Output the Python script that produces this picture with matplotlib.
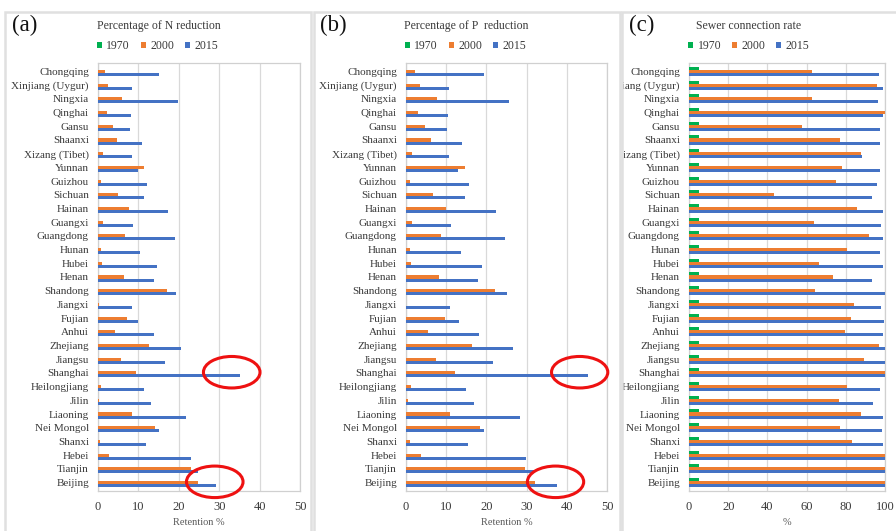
import matplotlib.pyplot as plt
from matplotlib.patches import Rectangle, Ellipse
import numpy as np

plt.rcParams['font.family'] = ['Liberation Serif', 'DejaVu Serif']

# provinces from top to bottom
provinces = ['Chongqing', 'Xinjiang (Uygur)', 'Ningxia', 'Qinghai', 'Gansu', 'Shaanxi',
             'Xizang (Tibet)', 'Yunnan', 'Guizhou', 'Sichuan', 'Hainan', 'Guangxi',
             'Guangdong', 'Hunan', 'Hubei', 'Henan', 'Shandong', 'Jiangxi', 'Fujian',
             'Anhui', 'Zhejiang', 'Jiangsu', 'Shanghai', 'Heilongjiang', 'Jilin',
             'Liaoning', 'Nei Mongol', 'Shanxi', 'Hebei', 'Tianjin', 'Beijing']

# percentage of N reduction
n_1970 = [0] * 31
n_2000 = [1.7, 2.5, 5.9, 2.3, 3.7, 4.7, 1.2, 11.3, 0.7, 4.9, 7.6, 1.2, 6.6, 0.7, 0.9,
          6.4, 17.2, 0.2, 7.3, 4.1, 12.6, 5.7, 9.4, 0.8, 0.2, 8.4, 14.2, 0.6, 2.7, 22.9, 24.8]
n_2015 = [15.2, 8.3, 19.8, 8.2, 7.9, 10.8, 8.3, 9.9, 12.2, 11.3, 17.4, 8.7, 19.1, 10.4, 14.5,
          13.8, 19.4, 8.3, 10.0, 13.9, 20.5, 16.7, 35.1, 11.5, 13.0, 21.9, 15.2, 11.8, 23.0, 24.8, 29.3]

# percentage of P reduction
p_1970 = [0] * 31
p_2000 = [2.2, 3.4, 7.7, 3.0, 4.8, 6.1, 1.6, 14.7, 1.0, 6.6, 9.9, 1.4, 8.7, 1.0, 1.3,
          8.3, 22.2, 0.1, 9.6, 5.4, 16.4, 7.5, 12.2, 1.2, 0.4, 11.0, 18.3, 0.9, 3.7, 29.5, 32.2]
p_2015 = [19.5, 10.7, 25.6, 10.5, 10.2, 14.0, 10.7, 12.9, 15.7, 14.7, 22.4, 11.3, 24.7, 13.6, 18.8,
          17.9, 25.2, 10.9, 13.2, 18.2, 26.5, 21.6, 45.2, 15.0, 16.9, 28.3, 19.5, 15.3, 29.8, 32.0, 37.6]

# sewer connection rate
s_1970 = [5] * 31
s_2000 = [62.7, 95.9, 62.5, 100, 57.6, 77.1, 87.6, 78.0, 75.1, 43.6, 85.8, 63.9, 92.0, 80.8, 66.4,
          73.4, 64.2, 84.1, 82.9, 79.7, 96.9, 89.2, 100, 80.5, 76.4, 87.5, 77.1, 83.1, 100, 100, 100]
s_2015 = [97.1, 99.2, 96.6, 99.2, 97.6, 97.5, 88.3, 97.6, 95.8, 93.2, 98.8, 97.8, 98.8, 97.6, 99.0,
          93.4, 100, 98.0, 99.7, 99.0, 100, 100, 100, 97.3, 93.9, 99.0, 98.6, 99.0, 99.8, 100, 100]

# circled provinces and how far the circle sits back from the bar end
highlight = {'Shanghai': -2.0, 'Beijing': -0.4}

GREEN, ORANGE, BLUE = '#00b050', '#ed7d31', '#4472c4'
GRID = '#d9d9d9'
TXT = '#3a3a3a'

W, H = 896, 531
fig = plt.figure(figsize=(W / 100, H / 100), dpi=100)


def px_box(x0, x1, y0, y1):
    return [x0 / W, 1 - y1 / H, (x1 - x0) / W, (y1 - y0) / H]


# panel frames
frames = []
for x0, x1 in [(5, 311), (314, 620), (622, 905)]:
    r = Rectangle((x0 / W, -0.05), (x1 - x0) / W, 1.05 - 12 / H,
                  transform=fig.transFigure, fill=False, ec='#e0e0e0', lw=1.8)
    fig.add_artist(r)
    frames.append(r)


def draw_panel(box, v1970, v2000, v2015, xmax, step, title, title_dx, xlabel, tag, tag_x,
               circles, frame):
    ax = fig.add_axes(px_box(*box))
    n = len(provinces)
    y = np.arange(n)[::-1]
    h = 0.22
    ax.barh(y + h, v1970, height=h, color=GREEN, label='1970', zorder=3)
    ax.barh(y, v2000, height=h, color=ORANGE, label='2000', zorder=3)
    ax.barh(y - h, v2015, height=h, color=BLUE, label='2015', zorder=3)

    ax.set_xlim(0, xmax)
    ax.set_ylim(-0.62, n - 0.38)
    ax.set_xticks(np.arange(0, xmax + 1, step))
    ax.set_yticks(y)
    ax.set_yticklabels(provinces)
    ax.tick_params(axis='y', length=0, pad=6.5, labelsize=8, labelcolor=TXT)
    ax.tick_params(axis='x', length=0, pad=7, labelsize=9, labelcolor=TXT)
    ax.grid(axis='x', color=GRID, lw=0.9, zorder=0)
    for s in ax.spines.values():
        s.set_color('#d0d0d0')
        s.set_linewidth(0.9)
    ax.set_xlabel(xlabel, fontsize=7.5, color='#595959', labelpad=4)

    # long names are cut off by the panel frame
    for lab in ax.get_yticklabels():
        lab.set_clip_path(frame)

    ax.text(title_dx, 1.086, title, transform=ax.transAxes, fontsize=8.5, color=TXT,
            ha='left', va='center')
    ax.legend(loc='center left', bbox_to_anchor=(-0.005, 1.04), ncol=3, frameon=False,
              fontsize=8.5, handlelength=0.45, handleheight=0.45, handletextpad=0.35,
              columnspacing=0.9, borderpad=0, borderaxespad=0, labelcolor=TXT)
    fig.text(tag_x / W, 1 - 25 / H, tag, fontsize=16.5, ha='left', va='center', color='#111111')

    for name, dx in circles.items():
        i = provinces.index(name)
        e = Ellipse((v2015[i] + dx, y[i] + 0.05), width=xmax * 0.28, height=2.3,
                    fill=False, ec='#ee1111', lw=2.2, clip_on=False, zorder=5)
        ax.add_patch(e)
    return ax


draw_panel((98, 300, 63, 491), n_1970, n_2000, n_2015, 50, 10,
           'Percentage of N reduction', -0.005, 'Retention %', '(a)', 12, highlight, frames[0])
draw_panel((406, 607, 63, 491), p_1970, p_2000, p_2015, 50, 10,
           'Percentage of P  reduction', -0.01, 'Retention %', '(b)', 320, highlight, frames[1])
draw_panel((689, 885, 63, 491), s_1970, s_2000, s_2015, 100, 20,
           'Sewer connection rate', 0.036, '%', '(c)', 629, {}, frames[2])

fig.savefig('out.png', dpi=100)
